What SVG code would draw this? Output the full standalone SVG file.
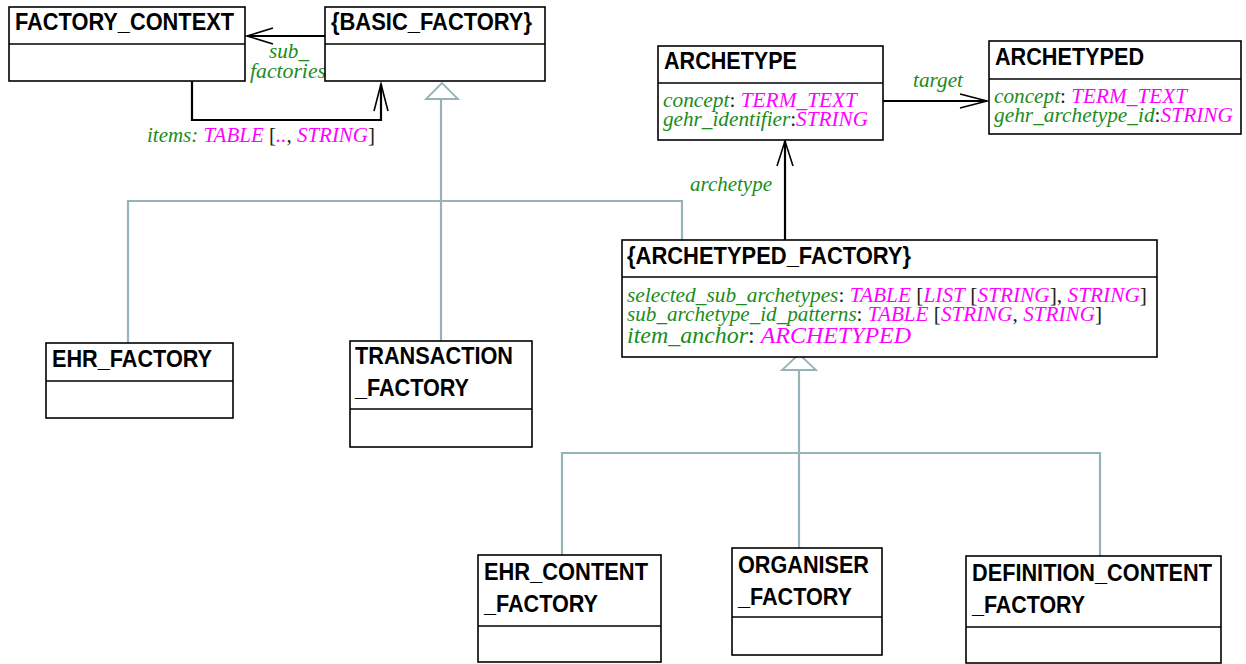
<svg xmlns="http://www.w3.org/2000/svg" width="1246" height="664" viewBox="0 0 1246 664">
  <defs>
    <style>
      .box { fill: #ffffff; stroke: #000000; stroke-width: 1.6; }
      .div { stroke: #000000; stroke-width: 1.6; }
      .title { font-family: "Liberation Sans", Arial, sans-serif; font-weight: bold; font-size: 24.5px; fill: #000000; }
      .attr { font-family: "Liberation Serif", "Times New Roman", serif; font-size: 20.5px; fill: #1a1a1a; }
      .n { fill: #1b8c1b; font-style: italic; }
      .t { fill: #ff00ff; font-style: italic; }
      .p { fill: #222222; }
      .lbl { font-family: "Liberation Serif", "Times New Roman", serif; font-size: 20.5px; font-style: italic; fill: #1b8c1b; }
      .assoc { fill: none; stroke: #000000; stroke-width: 2.2; }
      .head { fill: none; stroke: #000000; stroke-width: 1.6; }
      .inh { fill: none; stroke: #96b4b8; stroke-width: 2.2; }
      .tri { fill: #ffffff; stroke: #96b4b8; stroke-width: 1.8; }
    </style>
  </defs>

  <!-- connectors -->
  <g id="connectors">
    <!-- sub_factories: BASIC_FACTORY -> FACTORY_CONTEXT -->
    <line class="assoc" x1="325" y1="36" x2="247" y2="36"/>
    <polyline class="head" points="273,28 247,36 273,44"/>
    <text class="lbl" x="269" y="58" textLength="40" lengthAdjust="spacingAndGlyphs">sub_</text>
    <text class="lbl" x="250" y="78" textLength="76" lengthAdjust="spacingAndGlyphs">factories</text>

    <!-- items: FACTORY_CONTEXT -> BASIC_FACTORY -->
    <polyline class="assoc" points="192,81 192,120 381,120 381,84"/>
    <polyline class="head" points="374,111 381,84 388,111"/>
    <text class="attr" x="147" y="142" textLength="228" lengthAdjust="spacingAndGlyphs"><tspan class="n">items:</tspan> <tspan class="t">TABLE</tspan><tspan class="p"> [</tspan><tspan class="t">..</tspan><tspan class="p">, </tspan><tspan class="t">STRING</tspan><tspan class="p">]</tspan></text>

    <!-- target: ARCHETYPE -> ARCHETYPED -->
    <line class="assoc" x1="883" y1="101" x2="987" y2="101"/>
    <polyline class="head" points="960,94 987,101 960,108"/>
    <text class="lbl" x="913" y="87" textLength="50" lengthAdjust="spacingAndGlyphs">target</text>

    <!-- archetype: ARCHETYPED_FACTORY -> ARCHETYPE -->
    <line class="assoc" x1="785" y1="240" x2="785" y2="141"/>
    <polyline class="head" points="777,166 785,141 793,166"/>
    <text class="lbl" x="690" y="191" textLength="82" lengthAdjust="spacingAndGlyphs">archetype</text>

    <!-- inheritance from BASIC_FACTORY -->
    <polyline class="inh" points="128,343 128,201 682,201 682,240"/>
    <line class="inh" x1="441" y1="98" x2="441" y2="341"/>
    <polygon class="tri" points="442,83 426,99 458,99"/>

    <!-- inheritance from ARCHETYPED_FACTORY -->
    <polyline class="inh" points="562,555 562,453 1100,453 1100,556"/>
    <line class="inh" x1="799" y1="369" x2="799" y2="548"/>
    <polygon class="tri" points="799,354 782,370 816,370"/>
  </g>

  <!-- FACTORY_CONTEXT -->
  <g id="factory_context">
    <rect class="box" x="9" y="7" width="236" height="74"/>
    <line class="div" x1="9" y1="44" x2="245" y2="44"/>
    <text class="title" x="15" y="30" textLength="219" lengthAdjust="spacingAndGlyphs">FACTORY_CONTEXT</text>
  </g>

  <!-- {BASIC_FACTORY} -->
  <g id="basic_factory">
    <rect class="box" x="325" y="7" width="220" height="74"/>
    <line class="div" x1="325" y1="44" x2="545" y2="44"/>
    <text class="title" x="331" y="30" textLength="201" lengthAdjust="spacingAndGlyphs">{BASIC_FACTORY}</text>
  </g>

  <!-- ARCHETYPE -->
  <g id="archetype">
    <rect class="box" x="658" y="46" width="225" height="94"/>
    <line class="div" x1="658" y1="83" x2="883" y2="83"/>
    <text class="title" x="664" y="69" textLength="133" lengthAdjust="spacingAndGlyphs">ARCHETYPE</text>
    <text class="attr" x="663" y="107" textLength="194" lengthAdjust="spacingAndGlyphs"><tspan class="n">concept</tspan><tspan class="p">: </tspan><tspan class="t">TERM_TEXT</tspan></text>
    <text class="attr" x="663" y="126" textLength="205" lengthAdjust="spacingAndGlyphs"><tspan class="n">gehr_identifier</tspan><tspan class="p">:</tspan><tspan class="t">STRING</tspan></text>
  </g>

  <!-- ARCHETYPED -->
  <g id="archetyped">
    <rect class="box" x="989" y="41" width="252" height="93"/>
    <line class="div" x1="989" y1="79" x2="1241" y2="79"/>
    <text class="title" x="995" y="65" textLength="149" lengthAdjust="spacingAndGlyphs">ARCHETYPED</text>
    <text class="attr" x="994" y="103" textLength="193" lengthAdjust="spacingAndGlyphs"><tspan class="n">concept</tspan><tspan class="p">: </tspan><tspan class="t">TERM_TEXT</tspan></text>
    <text class="attr" x="994" y="122" textLength="239" lengthAdjust="spacingAndGlyphs"><tspan class="n">gehr_archetype_id</tspan><tspan class="p">:</tspan><tspan class="t">STRING</tspan></text>
  </g>

  <!-- {ARCHETYPED_FACTORY} -->
  <g id="archetyped_factory">
    <rect class="box" x="622" y="240" width="535" height="117"/>
    <line class="div" x1="622" y1="277" x2="1157" y2="277"/>
    <text class="title" x="627" y="264" textLength="284" lengthAdjust="spacingAndGlyphs">{ARCHETYPED_FACTORY}</text>
    <text class="attr" x="627" y="302" textLength="520" lengthAdjust="spacingAndGlyphs"><tspan class="n">selected_sub_archetypes</tspan><tspan class="p">: </tspan><tspan class="t">TABLE</tspan><tspan class="p"> [</tspan><tspan class="t">LIST</tspan><tspan class="p"> [</tspan><tspan class="t">STRING</tspan><tspan class="p">], </tspan><tspan class="t">STRING</tspan><tspan class="p">]</tspan></text>
    <text class="attr" x="627" y="321" textLength="475" lengthAdjust="spacingAndGlyphs"><tspan class="n">sub_archetype_id_patterns</tspan><tspan class="p">: </tspan><tspan class="t">TABLE</tspan><tspan class="p"> [</tspan><tspan class="t">STRING</tspan><tspan class="p">, </tspan><tspan class="t">STRING</tspan><tspan class="p">]</tspan></text>
    <text class="attr" x="627" y="343" style="font-size:23px" textLength="284" lengthAdjust="spacingAndGlyphs"><tspan class="n">item_anchor</tspan><tspan class="p">: </tspan><tspan class="t">ARCHETYPED</tspan></text>
  </g>

  <!-- EHR_FACTORY -->
  <g id="ehr_factory">
    <rect class="box" x="46" y="343" width="187" height="75"/>
    <line class="div" x1="46" y1="381" x2="233" y2="381"/>
    <text class="title" x="52" y="367" textLength="160" lengthAdjust="spacingAndGlyphs">EHR_FACTORY</text>
  </g>

  <!-- TRANSACTION_FACTORY -->
  <g id="transaction_factory">
    <rect class="box" x="350" y="341" width="182" height="106"/>
    <line class="div" x1="350" y1="409" x2="532" y2="409"/>
    <text class="title" x="355" y="364" textLength="158" lengthAdjust="spacingAndGlyphs">TRANSACTION</text>
    <text class="title" x="355" y="396" textLength="114" lengthAdjust="spacingAndGlyphs">_FACTORY</text>
  </g>

  <!-- EHR_CONTENT_FACTORY -->
  <g id="ehr_content_factory">
    <rect class="box" x="478" y="555" width="183" height="107"/>
    <line class="div" x1="478" y1="626" x2="661" y2="626"/>
    <text class="title" x="484" y="580" textLength="164" lengthAdjust="spacingAndGlyphs">EHR_CONTENT</text>
    <text class="title" x="484" y="612" textLength="114" lengthAdjust="spacingAndGlyphs">_FACTORY</text>
  </g>

  <!-- ORGANISER_FACTORY -->
  <g id="organiser_factory">
    <rect class="box" x="732" y="548" width="150" height="107"/>
    <line class="div" x1="732" y1="617" x2="882" y2="617"/>
    <text class="title" x="738" y="573" textLength="131" lengthAdjust="spacingAndGlyphs">ORGANISER</text>
    <text class="title" x="738" y="605" textLength="114" lengthAdjust="spacingAndGlyphs">_FACTORY</text>
  </g>

  <!-- DEFINITION_CONTENT_FACTORY -->
  <g id="definition_content_factory">
    <rect class="box" x="966" y="556" width="255" height="107"/>
    <line class="div" x1="966" y1="627" x2="1221" y2="627"/>
    <text class="title" x="972" y="581" textLength="240" lengthAdjust="spacingAndGlyphs">DEFINITION_CONTENT</text>
    <text class="title" x="972" y="613" textLength="113" lengthAdjust="spacingAndGlyphs">_FACTORY</text>
  </g>
</svg>
